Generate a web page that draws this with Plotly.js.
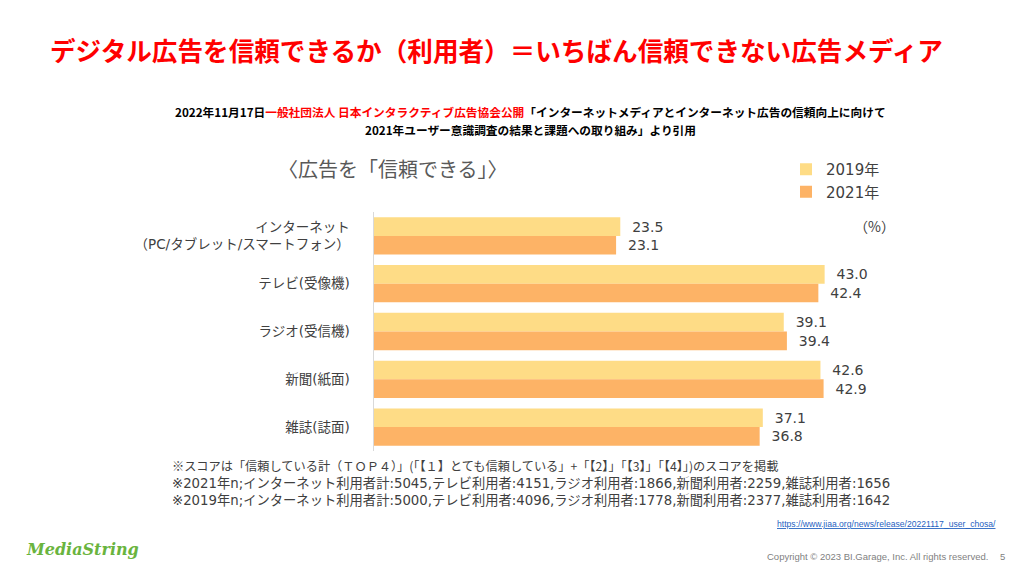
<!DOCTYPE html>
<html>
<head>
<meta charset="utf-8">
<script src="https://cdn.plot.ly/plotly-3.0.1.min.js"></script>
<style>
html,body{margin:0;padding:0;background:#fff;}
#chart{width:1024px;height:575px;}
</style>
</head>
<body>
<div id="chart"></div>
<script>
// ---- data ----
var categories = ["インターネット", "テレビ(受像機)", "ラジオ(受信機)", "新聞(紙面)", "雑誌(誌面)"];
var categoryLabels = ["インターネット<br>（PC/タブレット/スマートフォン）", "テレビ(受像機)", "ラジオ(受信機)", "新聞(紙面)", "雑誌(誌面)"];
var seriesNames = ["2019年", "2021年"];
var values2019 = [23.5, 43.0, 39.1, 42.6, 37.1];
var values2021 = [23.1, 42.4, 39.4, 42.9, 36.8];

// ---- layout geometry ----
var W = 1024, H = 575;
var M = {l: 374, r: 126, t: 212, b: 124, autoexpand: false};
var PW = W - M.l - M.r, PH = H - M.t - M.b;
function px(x){ return (x - M.l) / PW; }
function py(y){ return (H - M.b - y) / PH; }

var jp = "'Noto Sans CJK JP', 'Noto Sans', sans-serif";
var mixed = "'DejaVu Sans', 'Noto Sans CJK JP', sans-serif";

function barTrace(name, vals, color){
  return {
    type: "bar", orientation: "h", name: name,
    y: categories, x: vals,
    marker: {color: color, line: {width: 0}},
    text: vals.map(function(v){ return "\u00a0\u00a0" + v.toFixed(1); }),
    textposition: "outside",
    textfont: {family: mixed, size: 14, color: "#404040"},
    cliponaxis: false,
    hoverinfo: "skip"
  };
}

var data = [
  barTrace(seriesNames[0], values2019, "#FEDC86"),
  barTrace(seriesNames[1], values2021, "#FDB366")
];

function ann(text, x, y, opts){
  var a = {text: text, x: px(x), y: py(y), xref: "paper", yref: "paper",
    showarrow: false, xanchor: "left", yanchor: "middle",
    font: {family: jp, size: 12, color: "#404040"}};
  for (var k in opts) a[k] = opts[k];
  return a;
}

var annotations = [
  ann("<b>デジタル広告を信頼できるか（利用者）＝いちばん信頼できない広告メディア</b>", 48, 50,
      {font: {family: jp, size: 25.6, color: "#FF0000"}}),
  ann("<b>2022年11月17日<span style='color:#FF0000'>一般社団法人 日本インタラクティブ広告協会公開</span>「インターネットメディアとインターネット広告の信頼向上に向けて</b>", 530, 111,
      {xanchor: "center", font: {family: jp, size: 11.7, color: "#000000"}}),
  ann("<b>2021年ユーザー意識調査の結果と課題への取り組み」より引用</b>", 530, 129,
      {xanchor: "center", font: {family: jp, size: 11.7, color: "#000000"}}),
  ann("〈広告を「信頼できる」〉", 276, 168, {font: {family: jp, size: 20, color: "#595959"}}),
  ann("（%）", 852, 226, {font: {family: jp, size: 14, color: "#404040"}}),
  ann("※スコアは「信頼している計（ＴＯＰ４）」(「【１】とても信頼している」+「【2】」「【3】」「【4】」)のスコアを掲載", 170, 466,
      {font: {family: jp, size: 12.2, color: "#404040"}}),
  ann("※2021年n;インターネット利用者計:5045,テレビ利用者:4151,ラジオ利用者:1866,新聞利用者:2259,雑誌利用者:1656", 170, 483,
      {font: {family: mixed, size: 13.3, color: "#404040"}}),
  ann("※2019年n;インターネット利用者計:5000,テレビ利用者:4096,ラジオ利用者:1778,新聞利用者:2377,雑誌利用者:1642", 170, 500,
      {font: {family: mixed, size: 13.3, color: "#404040"}}),
  ann("<u>https://www.jiaa.org/news/release/20221117_user_chosa/</u>", 775, 524,
      {font: {family: "'Liberation Sans', Arial, sans-serif", size: 8.6, color: "#1F5FBF"}}),
  ann("<i><b>MediaString</b></i>", 24, 549,
      {font: {family: "'DejaVu Serif', serif", size: 16, color: "#6AB43E"}}),
  ann("Copyright © 2023 BI.Garage, Inc. All rights reserved.", 765, 556,
      {font: {family: "'Liberation Sans', Arial, sans-serif", size: 9.5, color: "#7F7F7F"}}),
  ann("5", 998, 556,
      {font: {family: "'Liberation Sans', Arial, sans-serif", size: 9.5, color: "#7F7F7F"}})
];

var layout = {
  width: W, height: H,
  margin: M,
  paper_bgcolor: "#ffffff", plot_bgcolor: "#ffffff",
  barmode: "group", bargap: 0.22, bargroupgap: 0,
  showlegend: true,
  legend: {
    xref: "container", yref: "container",
    x: 786 / W, y: 1 - 153 / H, xanchor: "left", yanchor: "top",
    traceorder: "normal",
    font: {family: mixed, size: 15, color: "#404040"},
    bgcolor: "rgba(0,0,0,0)", itemwidth: 30, tracegroupgap: 0
  },
  xaxis: {
    range: [0, 50], showgrid: false, zeroline: false, showline: false,
    showticklabels: false, ticks: "", fixedrange: true
  },
  yaxis: {
    type: "category", categoryorder: "array", categoryarray: categories,
    tickmode: "array", tickvals: categories, ticktext: categoryLabels,
    autorange: "reversed",
    showgrid: false, zeroline: false,
    showline: true, linecolor: "#D9D9D9", linewidth: 1.5,
    ticks: "", ticklabelstandoff: 20,
    tickfont: {family: mixed, size: 13.5, color: "#404040"},
    fixedrange: true
  },
  annotations: annotations
};

Plotly.newPlot("chart", data, layout, {displayModeBar: false, staticPlot: true});
</script>
</body>
</html>
